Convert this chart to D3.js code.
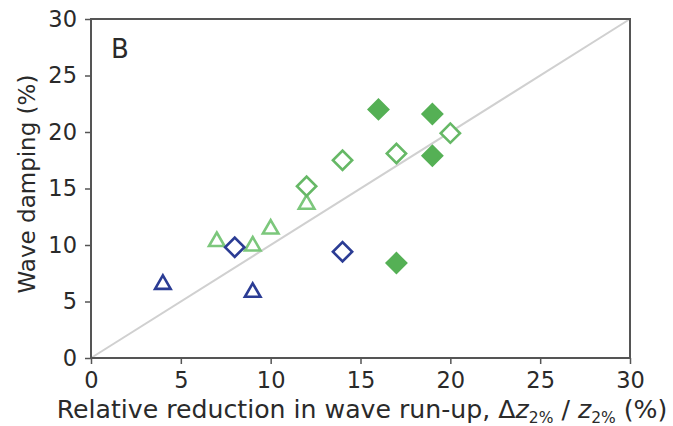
<!DOCTYPE html>
<html><head><meta charset="utf-8">
<script src="https://cdn.jsdelivr.net/npm/d3@7"></script>
<style>body{margin:0;background:#fff}svg{display:block}</style>
</head><body>
<svg id="c" width="673" height="426"></svg>
<script>
const xTicks=[0,5,10,15,20,25,30];
const yTicks=[0,5,10,15,20,25,30];
const blueTriangles=[[4,6.6],[9,5.9]];
const blueDiamonds=[[8,9.8],[14,9.4]];
const greenTriangles=[[7,10.4],[9,10.0],[10,11.5],[12,13.7]];
const greenDiamondsOpen=[[12,15.2],[14,17.5],[17,18.1],[20,19.9]];
const greenDiamondsFilled=[[16,22.0],[19,21.6],[19,17.9],[17,8.4]];

const svg=d3.select("#c");
const m={l:91,r:630,t:19,b:358};
const x=d3.scaleLinear().domain([0,30]).range([m.l,m.r]);
const y=d3.scaleLinear().domain([0,30]).range([m.b,m.t]);
const font="DejaVu Sans, sans-serif";

svg.append("line").attr("x1",x(0)).attr("y1",y(0)).attr("x2",x(30)).attr("y2",y(30))
  .attr("stroke","#d0d0d0").attr("stroke-width",2);

function diamond(sel,data,stroke,fill){
  sel.selectAll(null).data(data).enter().append("path")
    .attr("d",d3.symbol().type(d3.symbolSquare).size(185))
    .attr("transform",d=>`translate(${x(d[0])},${y(d[1])}) rotate(45)`)
    .attr("fill",fill).attr("stroke",stroke).attr("stroke-width",2.6);
}
function tri(sel,data,stroke){
  sel.selectAll(null).data(data).enter().append("path")
    .attr("d",d3.symbol().type(d3.symbolTriangle).size(105))
    .attr("transform",d=>`translate(${x(d[0])},${y(d[1])+1})`)
    .attr("fill","#fff").attr("stroke",stroke).attr("stroke-width",2.6);
}
const g=svg.append("g");
tri(g,greenTriangles,"#7cc77c");
diamond(g,greenDiamondsOpen,"#66b866","#fff");
diamond(g,greenDiamondsFilled,"#55b055","#55b055");
tri(g,blueTriangles,"#2b3c94");
diamond(g,blueDiamonds,"#2b3c94","#fff");

svg.append("rect").attr("x",m.l).attr("y",m.t).attr("width",m.r-m.l).attr("height",m.b-m.t)
  .attr("fill","none").attr("stroke","#555").attr("stroke-width",2);

const xa=svg.append("g").attr("transform",`translate(0,${m.b})`)
  .call(d3.axisBottom(x).tickValues(xTicks).tickSize(6).tickPadding(8));
const ya=svg.append("g").attr("transform",`translate(${m.l},0)`)
  .call(d3.axisLeft(y).tickValues(yTicks).tickSize(6).tickPadding(8));
[xa,ya].forEach(a=>{
  a.select(".domain").remove();
  a.selectAll("line").attr("stroke","#555").attr("stroke-width",1.5);
  a.selectAll("text").attr("font-family",font).attr("font-size",22.5).attr("fill","#2a2a2a");
});

svg.append("text").attr("x",111).attr("y",58).attr("font-family",font).attr("font-size",26).attr("fill","#2a2a2a").text("B");

svg.append("text").attr("transform",`translate(35,${184}) rotate(-90)`)
  .attr("text-anchor","middle").attr("font-family",font).attr("font-size",23).attr("fill","#2a2a2a")
  .text("Wave damping (%)");

const xl=svg.append("text").attr("x",362).attr("y",418).attr("text-anchor","middle")
  .attr("font-family",font).attr("font-size",25.2).attr("fill","#2a2a2a");
xl.append("tspan").text("Relative reduction in wave run-up, Δ");
xl.append("tspan").attr("font-style","italic").text("z");
xl.append("tspan").attr("font-size",15.5).attr("dy",5).text("2%");
xl.append("tspan").attr("dy",-5).text(" / ");
xl.append("tspan").attr("font-style","italic").text("z");
xl.append("tspan").attr("font-size",15.5).attr("dy",5).text("2%");
xl.append("tspan").attr("dy",-5).text(" (%)");
</script>
</body></html>
